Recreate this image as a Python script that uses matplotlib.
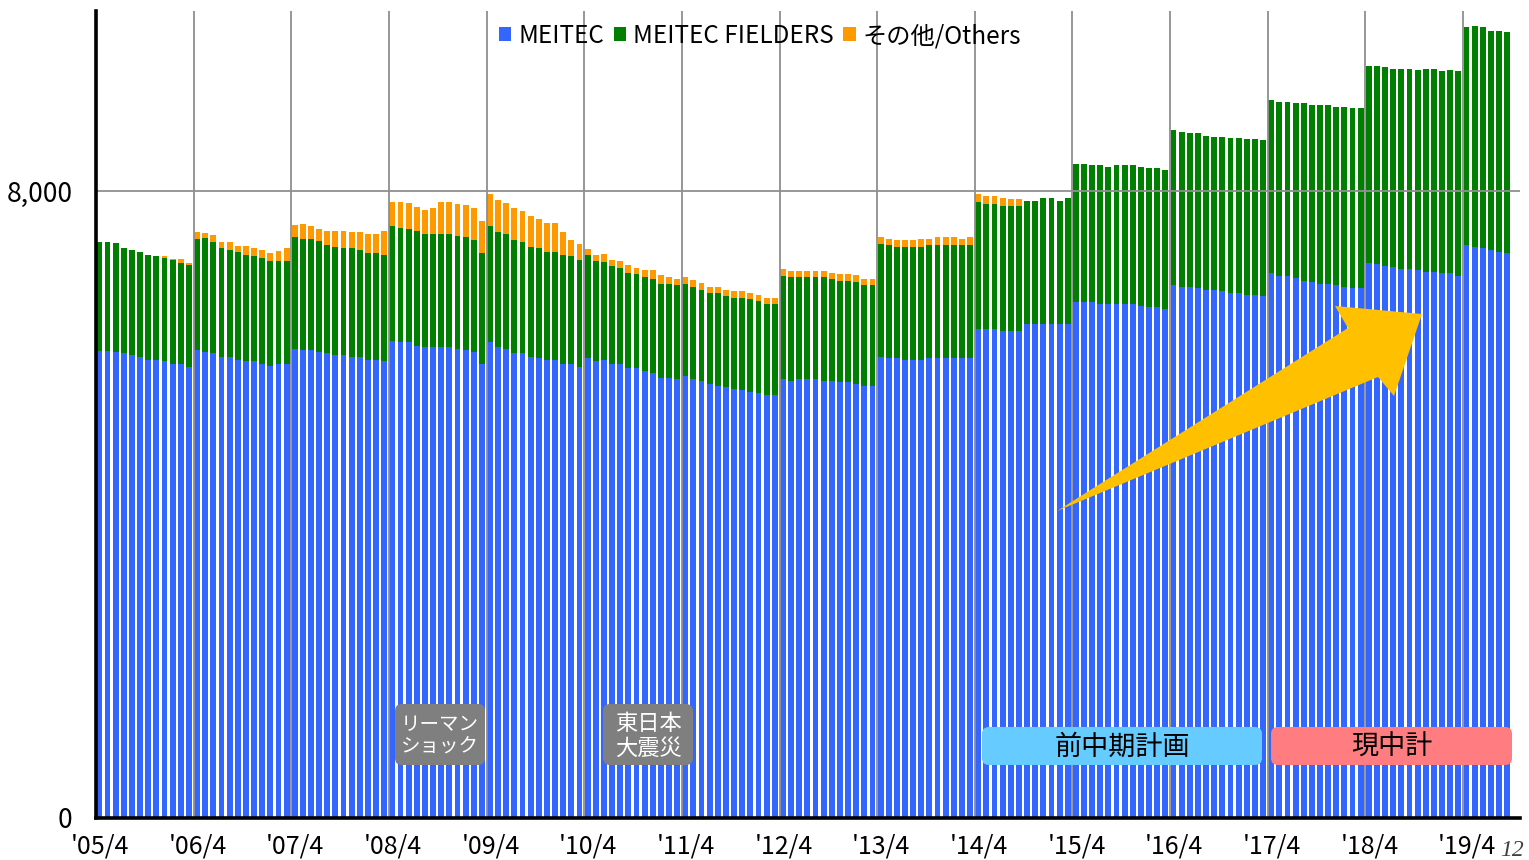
import numpy as np
import matplotlib
matplotlib.use("Agg")
import matplotlib.pyplot as plt
from matplotlib.patches import Polygon, FancyBboxPatch
from matplotlib.transforms import Affine2D

plt.rcParams['font.family'] = ['Noto Sans CJK JP', 'DejaVu Sans']

# monthly headcount, April 2005 .. September 2019 (one row per fiscal year)
meitec = [
    5960, 5960, 5950, 5930, 5910, 5880, 5840, 5840, 5830, 5800, 5790, 5760,
    5970, 5950, 5930, 5880, 5880, 5840, 5830, 5830, 5790, 5770, 5790, 5790,
    5980, 5970, 5970, 5950, 5930, 5910, 5910, 5880, 5880, 5840, 5840, 5830,
    6090, 6070, 6070, 6030, 6010, 6010, 6010, 6010, 5980, 5970, 5950, 5790,
    6070, 6010, 5980, 5930, 5930, 5880, 5870, 5840, 5840, 5800, 5800, 5760,
    5870, 5830, 5840, 5800, 5790, 5740, 5740, 5700, 5680, 5620, 5620, 5600,
    5640, 5600, 5580, 5540, 5520, 5500, 5480, 5460, 5440, 5420, 5400, 5400,
    5600, 5580, 5600, 5600, 5600, 5580, 5580, 5560, 5560, 5540, 5520, 5520,
    5880, 5870, 5870, 5840, 5840, 5840, 5870, 5870, 5870, 5870, 5870, 5870,
    6240, 6240, 6240, 6210, 6210, 6210, 6300, 6300, 6300, 6300, 6300, 6300,
    6580, 6580, 6580, 6560, 6560, 6560, 6560, 6560, 6540, 6520, 6520, 6500,
    6800, 6780, 6780, 6760, 6740, 6740, 6720, 6700, 6700, 6680, 6680, 6660,
    6950, 6920, 6920, 6890, 6860, 6840, 6820, 6820, 6800, 6780, 6760, 6760,
    7090, 7070, 7050, 7030, 7010, 7010, 6990, 6970, 6970, 6950, 6950, 6920,
    7310, 7290, 7270, 7250, 7230, 7210,
]
fielders = [
    1390, 1390, 1390, 1340, 1340, 1350, 1350, 1330, 1320, 1320, 1300, 1300,
    1420, 1450, 1420, 1390, 1370, 1380, 1360, 1340, 1360, 1340, 1320, 1320,
    1430, 1420, 1420, 1410, 1380, 1380, 1360, 1390, 1370, 1370, 1370, 1360,
    1470, 1460, 1450, 1460, 1450, 1450, 1450, 1450, 1450, 1450, 1430, 1420,
    1490, 1470, 1470, 1450, 1420, 1410, 1400, 1380, 1380, 1390, 1370, 1360,
    1310, 1280, 1260, 1240, 1230, 1220, 1200, 1200, 1200, 1200, 1200, 1200,
    1180, 1180, 1160, 1160, 1180, 1160, 1160, 1180, 1180, 1180, 1160, 1160,
    1320, 1320, 1300, 1300, 1300, 1320, 1300, 1300, 1300, 1300, 1280, 1280,
    1450, 1440, 1420, 1450, 1450, 1450, 1440, 1440, 1440, 1440, 1440, 1440,
    1620, 1600, 1600, 1600, 1600, 1600, 1580, 1580, 1610, 1610, 1580, 1610,
    1770, 1770, 1750, 1770, 1750, 1770, 1770, 1770, 1770, 1770, 1770, 1770,
    1980, 1980, 1960, 1980, 1970, 1950, 1970, 1980, 1980, 1980, 1980, 1990,
    2220, 2220, 2220, 2240, 2260, 2260, 2280, 2280, 2280, 2300, 2300, 2300,
    2510, 2530, 2530, 2530, 2550, 2550, 2560, 2590, 2590, 2580, 2600, 2610,
    2790, 2820, 2820, 2790, 2810, 2820,
]
others = [
    0, 0, 0, 0, 0, 0, 0, 0, 20, 20, 40, 30,
    85, 70, 85, 85, 100, 85, 105, 105, 100, 100, 125, 165,
    165, 190, 165, 160, 185, 205, 225, 210, 225, 245, 245, 305,
    300, 330, 330, 310, 300, 320, 400, 400, 410, 410, 400, 410,
    400, 410, 400, 400, 400, 390, 370, 370, 370, 290, 210, 210,
    80, 80, 100, 85, 85, 100, 80, 90, 110, 105, 85, 85,
    85, 85, 85, 80, 80, 80, 80, 80, 80, 80, 80, 80,
    85, 85, 85, 85, 85, 85, 80, 80, 80, 85, 80, 80,
    85, 85, 85, 85, 85, 100, 85, 105, 105, 105, 85, 105,
    100, 105, 105, 105, 85, 85, 0, 0, 0, 0, 0, 0,
    0, 0, 0, 0, 0, 0, 0, 0, 0, 0, 0, 0,
    0, 0, 0, 0, 0, 0, 0, 0, 0, 0, 0, 0,
    0, 0, 0, 0, 0, 0, 0, 0, 0, 0, 0, 0,
    0, 0, 0, 0, 0, 0, 0, 0, 0, 0, 0, 0,
    0, 0, 0, 0, 0, 0,
]
year_labels = ["'05/4", "'06/4", "'07/4", "'08/4", "'09/4", "'10/4", "'11/4", "'12/4",
               "'13/4", "'14/4", "'15/4", "'16/4", "'17/4", "'18/4", "'19/4"]
series_names = ["MEITEC", "MEITEC FIELDERS", "その他/Others"]
colors = ["#3366FF", "#007F00", "#FF9900"]

W, H = 1529, 860
fig = plt.figure(figsize=(W / 100, H / 100), dpi=100)
ax = fig.add_axes([96 / W, 1 - 818 / H, (1520 - 96) / W, (818 - 11) / H])

m = np.array(meitec)
f = np.array(fielders)
o = np.array(others)
x = np.arange(len(m)) + 0.06
b1 = ax.bar(x, m, width=0.72, align='edge', color=colors[0], linewidth=0, zorder=2)
b2 = ax.bar(x, f, bottom=m, width=0.72, align='edge', color=colors[1], linewidth=0, zorder=2)
b3 = ax.bar(x, o, bottom=m + f, width=0.72, align='edge', color=colors[2], linewidth=0, zorder=2)

ax.set_xlim(0, 175)
ax.set_ylim(0, 10300)

# grid on top of the bars, like the original
for k in range(1, len(year_labels)):
    ax.axvline(12 * k, color='#8f8f8f', lw=1.3, zorder=3)
ax.axhline(8000, color='#8f8f8f', lw=1.3, zorder=3)

ax.set_xticks(np.arange(len(year_labels)) * 12 + 0.5)
ax.set_xticklabels(year_labels, fontsize=18)
ax.set_yticks([0, 8000])
ax.set_yticklabels(["0", "8,000"], fontsize=19)
ax.tick_params(axis='x', length=0, pad=11)
ax.tick_params(axis='y', length=0, pad=17)

for s in ['top', 'right']:
    ax.spines[s].set_visible(False)
for s in ['left', 'bottom']:
    ax.spines[s].set_linewidth(2.6)
    ax.spines[s].set_color('black')
    ax.spines[s].set_zorder(4)

ax.legend([b1, b2, b3], series_names, loc='center', bbox_to_anchor=(760 / W, 1 - 36 / H),
          bbox_transform=fig.transFigure, ncol=3, frameon=False, fontsize=17.5,
          handlelength=0.5, handleheight=0.5, handletextpad=0.3, columnspacing=0.4,
          borderpad=0, borderaxespad=0)

# pixel coordinates (origin top-left) for decorations
pix = Affine2D().scale(1, -1).translate(0, H).scale(1 / W, 1 / H) + fig.transFigure

arrow = [(1057, 511), (1348, 328), (1335, 306), (1422, 314), (1394, 396), (1378, 377)]
fig.add_artist(Polygon(arrow, closed=True, facecolor='#FFC000', edgecolor='none',
                       transform=pix, zorder=5))

def label_box(x0, y0, x1, y1, color, text, tcolor, size):
    fig.add_artist(FancyBboxPatch((x0, y0), x1 - x0, y1 - y0,
                                  boxstyle='round,pad=0,rounding_size=7',
                                  facecolor=color, edgecolor='none',
                                  transform=pix, zorder=5))
    fig.text((x0 + x1) / 2 / W, 1 - ((y0 + y1) / 2 + 1) / H, text, color=tcolor,
             fontsize=size, ha='center', va='center', linespacing=1.1, zorder=6)

label_box(395, 704, 485, 765, '#7F7F7F', "リーマン\nショック", 'white', 14)
label_box(603, 704, 693, 765, '#7F7F7F', "東日本\n大震災", 'white', 16)
label_box(982, 727, 1262, 765, '#66CCFF', "前中期計画", 'black', 19.5)
label_box(1271, 727, 1512, 765, '#FF7C80', "現中計", 'black', 19.5)

fig.text(1500 / W, 1 - 851 / H, "12", fontsize=17, style='italic', color='#404040',
         family='Liberation Serif', va='center')

fig.savefig("out.png", dpi=100)
